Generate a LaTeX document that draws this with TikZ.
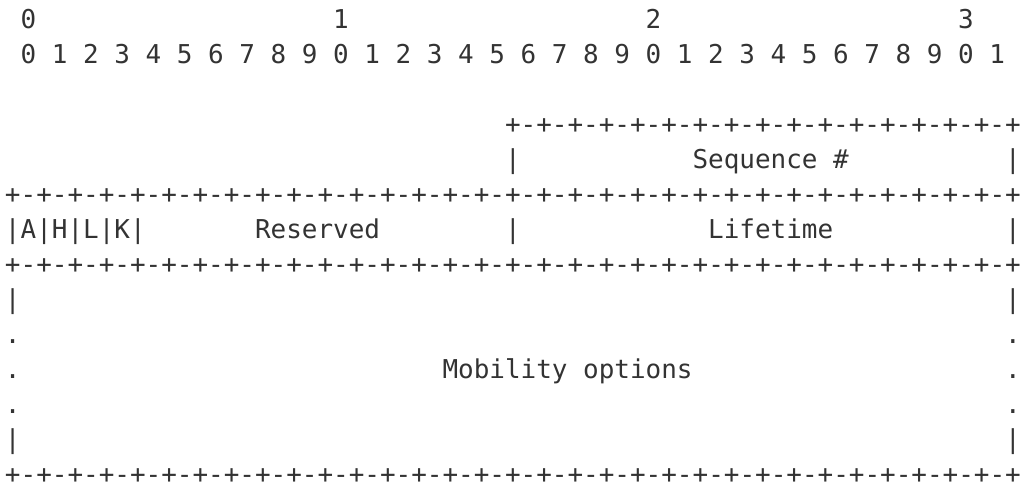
\documentclass[tikz,border=0pt]{standalone}
\usepackage{fontspec}
\newfontfamily\asciimono{DejaVu Sans Mono}
\definecolor{ink}{HTML}{333333}
\newcommand\seamfour{-+-+-+-+}
\tikzset{
	cell/.style={anchor=base west, inner sep=0pt, outer sep=0pt, text=ink,
		font=\asciimono\fontsize{19.47pt}{23pt}\selectfont}
}
\begin{document}
\begin{tikzpicture}[x=11.71875pt, y=-26.25pt]
			\useasboundingbox (-0.32,-0.814) rectangle (65.088,13.1);
			% bit ruler
			\foreach \t [count=\k from 0] in {0,1,2,3}
				\node [cell] (tens\k) at ({1+20*\k},0) {\t};
			\foreach \i [evaluate=\i as \d using {int(mod(\i,10))}] in {0,...,31}
				\node [cell] (bit\i) at ({1+2*\i},1) {\d};
			% sequence number word
			\node [cell] (seamtop) at (32,3) {+\seamfour\seamfour\seamfour\seamfour};
			\node [cell] (seqbarl) at (32,4) {|};
			\node [cell] (seq) at (44,4) {Sequence \#};
			\node [cell] (seqbarr) at (64,4) {|};
			\node [cell] (seamone) at (0,5) {+\seamfour\seamfour\seamfour\seamfour\seamfour\seamfour\seamfour\seamfour};
			% flags, reserved, lifetime
			\node [cell] (flags) at (0,6) {|A|H|L|K|};
			\node [cell] (reserved) at (16,6) {Reserved};
			\node [cell] (midbar) at (32,6) {|};
			\node [cell] (lifetime) at (45,6) {Lifetime};
			\node [cell] (lifebar) at (64,6) {|};
			\node [cell] (seamtwo) at (0,7) {+\seamfour\seamfour\seamfour\seamfour\seamfour\seamfour\seamfour\seamfour};
			% mobility options
			\foreach \r/\m in {8/|,9/.,10/.,11/.,12/|} {
				\node [cell] (left\r) at (0,\r) {\m};
				\node [cell] (right\r) at (64,\r) {\m};
			}
			\node [cell] (mobopts) at (28,10) {Mobility options};
			\node [cell] (seamthree) at (0,13) {+\seamfour\seamfour\seamfour\seamfour\seamfour\seamfour\seamfour\seamfour};
		\end{tikzpicture}
\end{document}
